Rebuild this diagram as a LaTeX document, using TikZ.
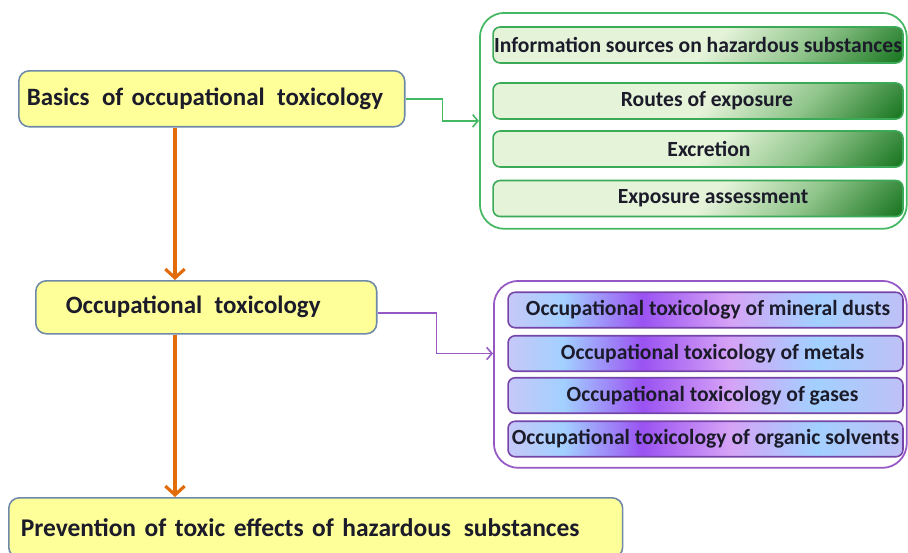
\documentclass[tikz,border=0pt]{standalone}
\usepackage{fontspec}
\setmainfont{Carlito}
\usepackage{tikz}
\usetikzlibrary{arrows.meta,positioning}
\definecolor{boxyellow}{HTML}{FFFF99}
\definecolor{boxedge}{HTML}{6F89A8}
\definecolor{textnavy}{HTML}{1B1B2A}
\definecolor{arroworange}{HTML}{E36C0A}
\definecolor{groupgreen}{HTML}{45B864}
\definecolor{edgegreen}{HTML}{3BAA58}
\definecolor{greenlight}{HTML}{E5F3D9}
\definecolor{greenmid}{HTML}{8FC48A}
\definecolor{greendark}{HTML}{1F7A26}
\definecolor{grouppurple}{HTML}{9558C4}
\definecolor{edgepurple}{HTML}{7444A8}
\definecolor{perilight}{HTML}{C6C8F8}
\definecolor{skyblue}{HTML}{A2D0FF}
\definecolor{violet}{HTML}{9A52F2}
\definecolor{pinklav}{HTML}{D6A2F6}
\definecolor{perirght}{HTML}{BEC0F6}
\pgfdeclarehorizontalshading{greenbar}{100bp}{color(0bp)=(greenlight); color(52bp)=(greenlight); color(68bp)=(greenmid); color(84bp)=(greendark); color(100bp)=(greendark)}
\pgfdeclarehorizontalshading{purplebar}{100bp}{color(0bp)=(perilight); color(25bp)=(perilight); color(32bp)=(skyblue); color(42bp)=(violet); color(53bp)=(pinklav); color(64bp)=(skyblue); color(75bp)=(perirght); color(100bp)=(perirght)}

\begin{document}
\begin{tikzpicture}[x=0.02cm,y=-0.02cm,
    mainbox/.style={draw=boxedge,line width=0.9pt,fill=boxyellow,rounded corners=6pt,anchor=north west,
      align=left,text=textnavy,font=\fontsize{14.2}{16}\selectfont\bfseries,inner ysep=0pt},
    greenitem/.style={draw=edgegreen,line width=0.9pt,shading=greenbar,shading angle=-45,rounded corners=4pt,
      minimum width=8.2cm,minimum height=0.72cm,inner sep=0pt,text=textnavy,font=\fontsize{12.3}{14}\selectfont\bfseries},
    purpleitem/.style={draw=edgepurple,line width=0.9pt,shading=purplebar,rounded corners=4pt,
      minimum width=7.9cm,minimum height=0.71cm,inner sep=0pt,text=textnavy,font=\fontsize{12.3}{14}\selectfont\bfseries},
    group/.style={rounded corners=14pt,line width=1pt,anchor=north west,inner sep=0pt}]
  \useasboundingbox (0,0) rectangle (908,552);
  % left column
  \node[mainbox,text width=7.4cm,inner xsep=0.16cm,minimum height=1.12cm] (basics) at (18,70) {Basics\,\ of occupational\,\ toxicology};
  \node[mainbox,text width=5.62cm,inner xsep=0.6cm,minimum height=1.06cm] (occ) at (35,280) {Occupational\,\ toxicology};
  \node[mainbox,text width=11.8cm,inner xsep=0.24cm,minimum height=1.2cm,font=\fontsize{14.5}{16}\selectfont\bfseries] (prev) at (8,497) {Prevention of toxic effects of hazardous\,\ substances};
  % groups
  \node[group,draw=groupgreen,minimum width=8.54cm,minimum height=4.32cm] (ggroup) at (479,12) {};
  \node[group,draw=grouppurple,minimum width=8.26cm,minimum height=3.74cm] (pgroup) at (493,280) {};
  \node[greenitem] (info) at (698,45) {Information sources on hazardous substances};
  \node[greenitem] (routes) at (698,101) {\hspace*{0.36cm}Routes of exposure};
  \node[greenitem] (excr) at (698,149) {\hspace*{0.44cm}Excretion};
  \node[greenitem] (assess) at (698,198.5) {\hspace*{0.6cm}Exposure assessment};
  \node[purpleitem] (dusts) at (705.5,310) {\hspace*{0.1cm}Occupational toxicology of mineral dusts};
  \node[purpleitem] (metals) at (705.5,353.5) {\hspace*{0.28cm}Occupational toxicology of metals};
  \node[purpleitem] (gases) at (705.5,395.5) {\hspace*{0.28cm}Occupational toxicology of gases};
  \node[purpleitem] (solv) at (705.5,439) {Occupational toxicology of organic solvents};
  % connectors
  \draw[arroworange,line width=1.8pt,-{Straight Barb[length=5pt,width=11pt]}] (basics.south -| 175,0) -- (occ.north -| 175,0);
  \draw[arroworange,line width=1.8pt,-{Straight Barb[length=5pt,width=11pt]}] (occ.south -| 175,0) -- (prev.north -| 175,0);
  \draw[groupgreen,line width=0.9pt,-{Straight Barb[length=3pt,width=7pt]}] (basics.east) -- ++(37,0) |- (ggroup.west);
  \draw[grouppurple,line width=0.9pt,-{Straight Barb[length=3pt,width=7pt]}] ([yshift=-0.11cm]occ.east) -- ++(59,0) |- (pgroup.west |- metals.center);
\end{tikzpicture}
\end{document}
